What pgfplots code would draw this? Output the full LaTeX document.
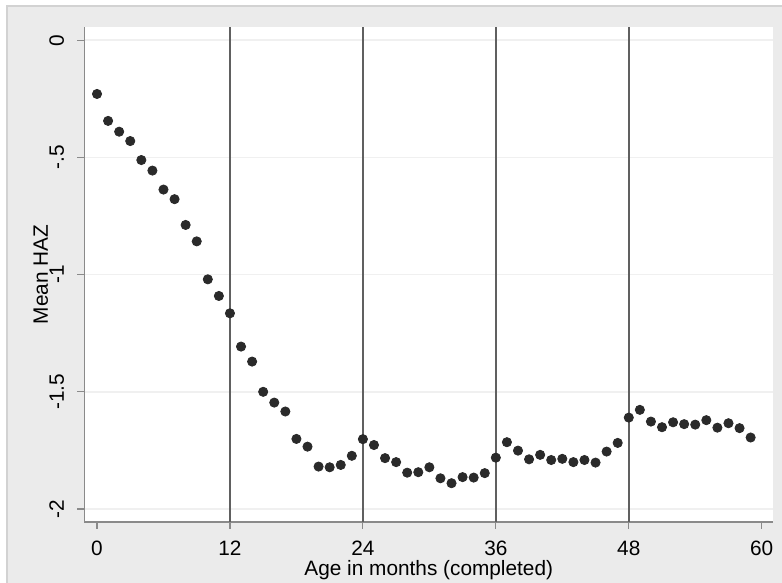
\documentclass[border=0pt]{standalone}
\usepackage{fontspec}
\setmainfont{Liberation Sans}
\usepackage{pgfplots}
\usepackage{pgfplotstable}
\pgfplotsset{compat=1.18}

\definecolor{panelgray}{HTML}{EBEBEB}
\definecolor{framegray}{HTML}{D2D2D2}
\definecolor{axisgray}{HTML}{8A8A8A}
\definecolor{gridgray}{HTML}{F0F0F0}
\definecolor{linegray}{HTML}{606060}
\definecolor{dotcolor}{HTML}{2A2A2A}

% Mean height-for-age z-score by completed month of age
\pgfplotstableread{
age haz
0 -0.229
1 -0.344
2 -0.390
3 -0.430
4 -0.511
5 -0.556
6 -0.637
7 -0.678
8 -0.788
9 -0.858
10 -1.020
11 -1.091
12 -1.165
13 -1.307
14 -1.371
15 -1.500
16 -1.546
17 -1.584
18 -1.701
19 -1.734
20 -1.819
21 -1.822
22 -1.812
23 -1.773
24 -1.702
25 -1.727
26 -1.783
27 -1.800
28 -1.845
29 -1.843
30 -1.822
31 -1.869
32 -1.890
33 -1.864
34 -1.866
35 -1.847
36 -1.781
37 -1.715
38 -1.751
39 -1.788
40 -1.769
41 -1.791
42 -1.786
43 -1.800
44 -1.791
45 -1.802
46 -1.755
47 -1.718
48 -1.610
49 -1.577
50 -1.627
51 -1.651
52 -1.630
53 -1.638
54 -1.640
55 -1.621
56 -1.653
57 -1.634
58 -1.655
59 -1.695
}\hazdata

\begin{document}
\fontsize{10.4}{12.5}\selectfont
\begin{tikzpicture}
\path[use as bounding box] (-42.25pt,-30.5pt) rectangle (348.75pt,261pt);
\fill[panelgray] (-38.75pt,-30.5pt) rectangle (348.75pt,258pt);
\draw[framegray, line width=0.7pt] (-38.75pt,-30.5pt) -- (-38.75pt,258pt) -- (348.75pt,258pt);
\begin{axis}[
  at={(0,0)}, anchor=south west,
  scale only axis,
  width=344.25pt, height=247.5pt,
  xmin=-1.13, xmax=61.02,
  ymin=-2.0555, ymax=0.0567,
  axis background/.style={fill=white},
  axis x line*=bottom, axis y line*=left,
  axis line style={draw=axisgray, line width=0.8pt},
  tick align=outside,
  major tick length=3.5pt,
  tick style={draw=axisgray, line width=0.6pt},
  xtick={0,12,24,36,48,60},
  xticklabels={0,12,24,36,48,60},
  ytick={-2,-1.5,-1,-0.5,0},
  yticklabels={-2,-1.5,-1,-.5,0},
  ymajorgrids,
  grid style={draw=gridgray, line width=0.8pt},
  xticklabel style={anchor=base, inner sep=0pt},
  xticklabel shift=13.5pt,
  yticklabel style={rotate=90, anchor=base, inner sep=0pt},
  yticklabel shift=6.75pt,
  xlabel={Age in months (completed)},
  xlabel style={at={([yshift=-26.8pt]axis description cs:0.5,0)}, anchor=base, inner sep=0pt},
  clip=false,
]
\foreach \m in {12,24,36,48} {
  \edef\tmp{\noexpand\draw[linegray, line width=1pt] (axis cs:\m,-2.0555) -- (axis cs:\m,0.0567);}
  \tmp
}
\addplot[only marks, mark=*, mark size=2.3pt, draw=dotcolor, fill=dotcolor] table[x=age, y=haz] {\hazdata};
\node[rotate=90, anchor=base, inner sep=0pt] at ([xshift=-18.25pt]axis description cs:0,0.5) {Mean HAZ};
\end{axis}
\end{tikzpicture}
\end{document}
